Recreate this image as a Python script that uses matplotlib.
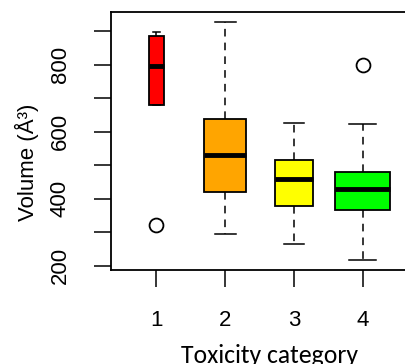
import matplotlib.pyplot as plt

categories = [1, 2, 3, 4]
whisk_lo = [681, 296, 265, 216]
q1 = [681, 419, 380, 368]
medians = [795, 530, 458, 430]
q3 = [885, 638, 517, 481]
whisk_hi = [897, 929, 627, 623]
fliers = [[321], [], [], [800]]
box_widths = [0.22, 0.615, 0.56, 0.80]
colors = ['#FF0000', '#FFA500', '#FFFF00', '#00FF00']

plt.rcParams['font.family'] = 'Liberation Sans'

fig = plt.figure(figsize=(4.05, 3.64), dpi=100)
ax = fig.add_axes([111 / 405, 94 / 364, 297 / 405, 258 / 364])

stats = []
for i in range(len(categories)):
    stats.append(dict(med=medians[i], q1=q1[i], q3=q3[i],
                      whislo=whisk_lo[i], whishi=whisk_hi[i], fliers=fliers[i]))

bp = ax.bxp(stats, positions=categories, widths=box_widths,
            capwidths=[w / 2 for w in box_widths], patch_artist=True,
            boxprops=dict(linewidth=1.3, edgecolor='black'),
            medianprops=dict(color='black', linewidth=3.5, solid_capstyle='butt'),
            whiskerprops=dict(color='black', linewidth=1.1, linestyle=(0, (5, 4))),
            capprops=dict(color='black', linewidth=1.1),
            flierprops=dict(marker='o', markersize=10, markerfacecolor='white',
                            markeredgecolor='black', markeredgewidth=1.3))
for patch, c in zip(bp['boxes'], colors):
    patch.set_facecolor(c)

ax.set_xlim(0.34, 4.66)
ax.set_ylim(187.5, 957.5)
ax.set_yticks([200, 400, 600, 800])
ax.set_yticks([300, 500, 700, 900], minor=True)
ax.set_xticks(categories)
ax.set_xticklabels([str(c) for c in categories])
ax.tick_params(axis='both', which='both', length=12, width=1.1, labelsize=16, pad=17)
ax.tick_params(axis='y', labelrotation=90)
for lab in ax.get_yticklabels():
    lab.set_va('center')
for s in ax.spines.values():
    s.set_linewidth(1.3)

ax.text(-0.283, 0.419, 'Volume (Å³)', rotation=90, ha='center', va='center',
        fontsize=16, transform=ax.transAxes)
ax.text(0.535, -0.361, 'Toxicity category', ha='center', va='baseline',
        fontsize=18.5, family='Carlito', transform=ax.transAxes)

fig.savefig('out.png', dpi=100)
